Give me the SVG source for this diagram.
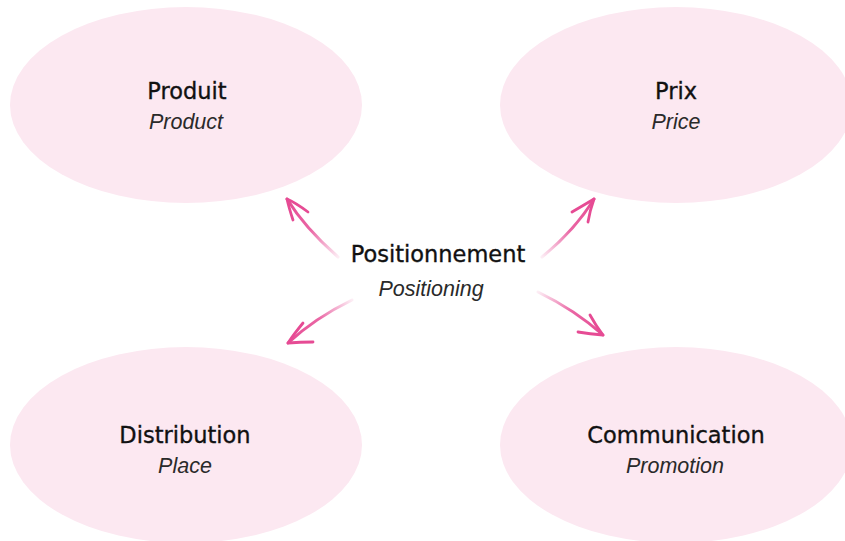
<svg xmlns="http://www.w3.org/2000/svg" width="845" height="541" viewBox="0 0 845 541">
<style>
.node{fill:#fce8f1}
.t{font-family:"DejaVu Sans","Liberation Sans",sans-serif;font-size:22.5px;fill:#111;stroke:#111;stroke-width:0.35;text-anchor:middle}
.s{font-family:"Liberation Sans","Lato",sans-serif;font-style:italic;font-size:21.5px;fill:#2a2a2a;text-anchor:middle}
.halo{fill:none;stroke:#fff;stroke-width:16;stroke-linecap:round;opacity:0.85}
.a{fill:none;stroke-width:3;stroke-linecap:round;stroke-linejoin:round}
.h{fill:none;stroke:#e64b94;stroke-width:2.8;stroke-linecap:round;stroke-linejoin:round}
</style>
<defs>
<linearGradient id="g1" gradientUnits="userSpaceOnUse" x1="338" y1="257" x2="287" y2="199"><stop offset="0" stop-color="#e64b94" stop-opacity="0.1"/><stop offset="0.5" stop-color="#e64b94" stop-opacity="0.85"/><stop offset="1" stop-color="#e64b94"/></linearGradient>
<linearGradient id="g2" gradientUnits="userSpaceOnUse" x1="542" y1="257" x2="594" y2="199"><stop offset="0" stop-color="#e64b94" stop-opacity="0.1"/><stop offset="0.5" stop-color="#e64b94" stop-opacity="0.85"/><stop offset="1" stop-color="#e64b94"/></linearGradient>
<linearGradient id="g3" gradientUnits="userSpaceOnUse" x1="352" y1="300" x2="288" y2="343"><stop offset="0" stop-color="#e64b94" stop-opacity="0.1"/><stop offset="0.5" stop-color="#e64b94" stop-opacity="0.85"/><stop offset="1" stop-color="#e64b94"/></linearGradient>
<linearGradient id="g4" gradientUnits="userSpaceOnUse" x1="538" y1="292" x2="603" y2="335"><stop offset="0" stop-color="#e64b94" stop-opacity="0.1"/><stop offset="0.5" stop-color="#e64b94" stop-opacity="0.85"/><stop offset="1" stop-color="#e64b94"/></linearGradient>
</defs>
<rect width="845" height="541" fill="#fff"/>
<g id="produit"><ellipse class="node" cx="186" cy="105" rx="176" ry="98"/><text class="t" x="187" y="99">Produit</text><text class="s" x="186" y="129">Product</text></g>
<g id="prix"><ellipse class="node" cx="676" cy="105" rx="176" ry="98"/><text class="t" x="676" y="99">Prix</text><text class="s" x="676" y="129">Price</text></g>
<g id="distribution"><ellipse class="node" cx="186" cy="445" rx="176" ry="98"/><text class="t" x="185" y="443">Distribution</text><text class="s" x="185" y="473">Place</text></g>
<g id="communication"><ellipse class="node" cx="676" cy="445" rx="176" ry="98"/><text class="t" x="676" y="443">Communication</text><text class="s" x="675" y="473">Promotion</text></g>
<g id="connectors">
<path class="halo" d="M338 257 Q305 228 290 204"/>
<path class="halo" d="M542 257 Q575 230 591 204"/>
<path class="halo" d="M352 300 Q315 318 292 340"/>
<path class="halo" d="M538 292 Q575 310 599 332"/>
<path class="a" stroke="url(#g1)" d="M338 257 Q305 228 287 199"/>
<path class="h" d="M308 212 Q296 203 287 199 Q289 208 293 220"/>
<path class="a" stroke="url(#g2)" d="M542 257 Q575 230 594 199"/>
<path class="h" d="M572 212 Q584 205 594 199 Q590 210 588 222"/>
<path class="a" stroke="url(#g3)" d="M352 300 Q315 318 288 343"/>
<path class="h" d="M303 323 Q294 334 288 343 Q300 342 313 342"/>
<path class="a" stroke="url(#g4)" d="M538 292 Q575 310 603 335"/>
<path class="h" d="M590 315 Q596 326 603 335 Q590 334 578 332"/>
</g>
<g id="positionnement"><text class="t" x="438" y="262">Positionnement</text><text class="s" x="431" y="296">Positioning</text></g>
</svg>
